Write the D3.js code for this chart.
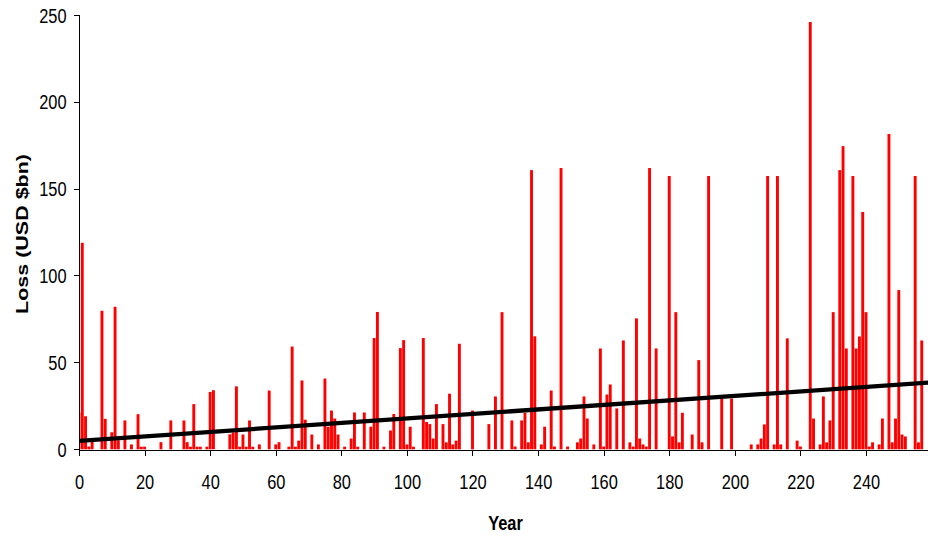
<!DOCTYPE html>
<html><head><meta charset="utf-8">
<script src="https://cdn.jsdelivr.net/npm/d3@7"></script>
<style>html,body{margin:0;padding:0;background:#fff;}svg{display:block;}</style>
</head><body><svg id="chart" width="928" height="536"></svg>
<script>
// ---- data ----
const years = [0,1,2,3,4,7,8,10,11,12,14,16,18,19,20,25,28,32,33,34,35,36,37,39,40,41,
  46,47,48,49,50,51,52,53,55,58,60,61,64,65,66,67,68,69,71,73,75,76,77,78,79,81,83,84,85,
  87,89,90,91,93,95,96,98,99,100,101,102,105,106,107,108,109,111,112,113,114,115,116,120,125,127,129,
  132,133,135,136,137,138,139,141,142,144,145,147,149,152,153,154,155,157,159,160,161,162,164,166,
  168,169,170,171,172,173,174,176,180,181,182,183,184,187,189,190,192,196,199,205,207,208,209,210,
  212,213,214,216,219,220,223,224,226,227,228,229,230,232,233,234,236,237,238,239,240,241,242,244,
  245,247,248,249,250,251,252,255,256,257];
const losses = [21.2,118.8,19,1.6,4.2,79.7,17.5,9.8,82,5.2,16.6,2.8,20.2,1.5,1.5,4.1,16.6,16.6,4.1,1.5,26,1.5,1.5,1.5,33,34,
  8.6,9.7,36.2,1.5,8.5,1.5,16.6,1.5,2.8,33.8,2.8,4.1,1.5,59.1,1.5,5,39.6,17,8.5,2.8,40.7,13,22.3,17.7,8.5,1.5,6.2,21.2,1.5,
  21.2,13,64,79,1.5,10.8,20.3,58.2,62.8,2.8,13,1.5,64,15.7,14.5,6.2,26,14.5,4,32,2.8,5,60.7,22.3,14.5,30.4,78.9,
  16.6,1.6,16.6,21,4,160.6,65,2.8,13,33.8,1.6,161.8,1.6,4,6.2,30.4,17.7,2.8,58,1.6,31.5,37.3,23.5,62.6,
  4,1.6,75.3,6.2,2.8,1.6,161.8,58,157.2,7.4,78.9,4,21,8.5,51.3,4,157.2,29.2,29.2,2.8,2.8,6.2,14.3,157.2,
  2.8,157.2,2.8,63.8,5,1.6,245.8,17.7,2.8,30.4,4,16.6,78.9,160.6,174.4,58,157.2,58,64.9,136.5,78.9,1.6,4,2.8,
  17.7,181.4,4,17.7,91.6,8.5,7.4,157.2,4,62.6];
const xTicks = [0,20,40,60,80,100,120,140,160,180,200,220,240];
const yTicks = [0,50,100,150,200,250];
const trendIntercept = 4.8;   // USD bn at year 0
const trendSlope = 0.1295;    // USD bn per year
const xTitle = "Year";
const yTitle = "Loss (USD $bn)";

// ---- layout ----
const svg = d3.select("#chart");
const plotLeft = 79, plotRight = 928.3, plotTop = 14.7, plotBottom = 449.3;
const x = d3.scaleLinear().domain([0, 259]).range([plotLeft, plotRight]);
const y = d3.scaleLinear().domain([0, 250]).range([plotBottom, plotTop]);
const barW = 2.9;
const sx = 0.8; // horizontal squeeze of the text in the reference

svg.append("rect").attr("width", 928).attr("height", 536).attr("fill", "#fff");
svg.append("defs").append("clipPath").attr("id", "plot")
  .append("rect").attr("x", plotLeft).attr("y", 0)
  .attr("width", plotRight - plotLeft).attr("height", plotBottom + 1);

const data = years.map((yr, i) => ({year: yr, loss: losses[i]}));

const g = svg.append("g").attr("clip-path", "url(#plot)");
g.selectAll("rect.bar").data(data).join("rect")
  .attr("class", "bar")
  .attr("x", d => x(d.year) - barW / 2)
  .attr("width", barW)
  .attr("y", d => y(d.loss))
  .attr("height", d => y(0) - y(d.loss))
  .attr("fill", "#ff0000");

// trend line
const trend = d3.line().x(d => x(d)).y(d => y(trendIntercept + trendSlope * d));
g.append("path").datum([0, 259]).attr("d", trend)
  .attr("fill", "none").attr("stroke", "#000").attr("stroke-width", 4.3);

// axes
const yAxis = svg.append("g").attr("transform", `translate(${plotLeft - 0.5},0)`)
  .call(d3.axisLeft(y).tickValues(yTicks).tickSize(5).tickSizeOuter(0));
const xAxis = svg.append("g").attr("transform", `translate(0,${plotBottom + 0.5})`)
  .call(d3.axisBottom(x).tickValues(xTicks).tickSize(6).tickSizeOuter(0));

[yAxis, xAxis].forEach(a => {
  a.selectAll("path.domain").attr("stroke", "#000").attr("stroke-width", 1).attr("shape-rendering", "crispEdges");
  a.selectAll(".tick line").attr("stroke", "#000").attr("shape-rendering", "crispEdges");
  a.selectAll(".tick text")
    .attr("font-family", "'Liberation Sans', Arial, sans-serif")
    .attr("font-size", 20.5).attr("fill", "#000");
});
yAxis.selectAll(".tick text")
  .attr("x", null).attr("dy", null)
  .attr("transform", `translate(-12,7.3) scale(${sx},1)`)
  .attr("text-anchor", "end");
xAxis.selectAll(".tick text")
  .attr("y", null).attr("dy", null)
  .attr("transform", `translate(0,38.8) scale(${sx},1)`)
  .attr("text-anchor", "middle");

// titles
svg.append("text").text(xTitle)
  .attr("transform", `translate(505.5,529.5) scale(${sx},1)`)
  .attr("text-anchor", "middle")
  .attr("font-family", "'Liberation Sans', Arial, sans-serif")
  .attr("font-weight", "bold").attr("font-size", 20.5).attr("fill", "#000");
svg.append("text").text(yTitle)
  .attr("transform", `translate(28,234) scale(${sx},1) rotate(-90)`)
  .attr("text-anchor", "middle")
  .attr("font-family", "'Liberation Sans', Arial, sans-serif")
  .attr("font-weight", "bold").attr("font-size", 21.5).attr("fill", "#000");
</script>
</body></html>
